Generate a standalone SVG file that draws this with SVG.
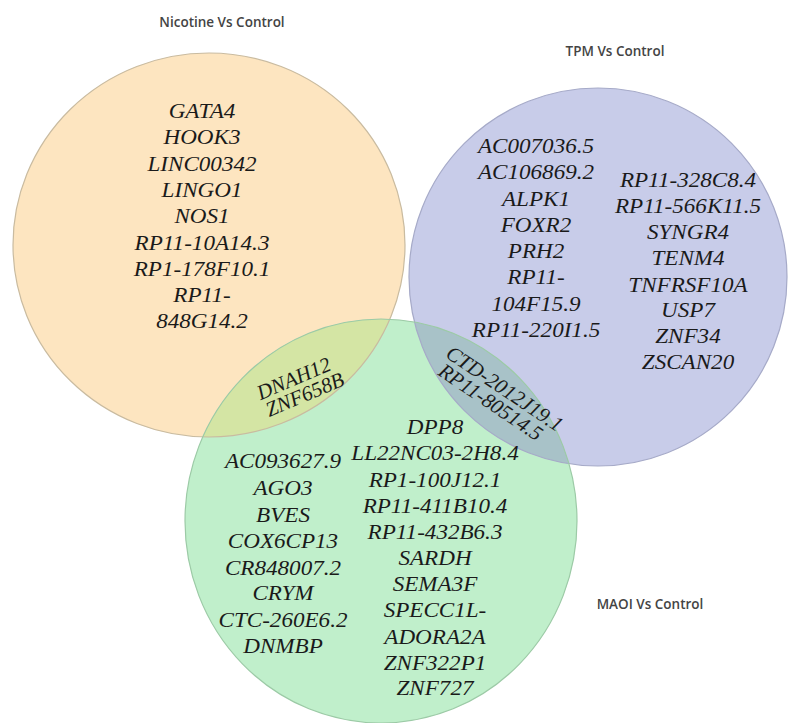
<svg xmlns="http://www.w3.org/2000/svg" width="792" height="723" viewBox="0 0 792 723">
  <style>
    .title { font-family: "Open Sans", "Liberation Sans", sans-serif; font-size: 13.5px; font-weight: 600; fill: #444; text-anchor: middle; }
    .gene { font-family: "Liberation Serif", "Times New Roman", serif; font-style: italic; font-size: 21px; fill: #1a1a1a; text-anchor: middle; }
    .edge { fill: none; stroke-width: 1.2; }
  </style>
  <defs>
    <ellipse id="shapeOrange" cx="209" cy="245" rx="196" ry="192"/>
    <ellipse id="shapeBlue" cx="598" cy="277" rx="189" ry="189"/>
    <ellipse id="shapeGreen" cx="381" cy="521" rx="196" ry="202"/>
    <clipPath id="clipGreen"><use href="#shapeGreen"/></clipPath>
  </defs>
  <rect width="792" height="723" fill="#ffffff"/>

  <g id="set-nicotine">
    <use href="#shapeOrange" fill="#fde5c0"/>
  </g>
  <g id="set-tpm">
    <use href="#shapeBlue" fill="#c8cce9"/>
  </g>
  <g id="set-maoi">
    <use href="#shapeGreen" fill="#c0efcb"/>
  </g>
  <g id="overlaps">
    <use href="#shapeOrange" fill="#d4e5a4" clip-path="url(#clipGreen)"/>
    <use href="#shapeBlue" fill="#a8c2c8" clip-path="url(#clipGreen)"/>
  </g>
  <g id="outlines">
    <use href="#shapeOrange" class="edge" stroke="#c9bba0"/>
    <use href="#shapeBlue" class="edge" stroke="#a6aac8"/>
    <use href="#shapeGreen" class="edge" stroke="#9ccaa6"/>
  </g>

  <g id="titles">
    <text class="title" x="222" y="27">Nicotine Vs Control</text>
    <text class="title" x="615" y="56">TPM Vs Control</text>
    <text class="title" x="650" y="609">MAOI Vs Control</text>
  </g>

  <g id="genes-nicotine" transform="translate(202,0) scale(1.1,1)">
    <text class="gene" x="0" y="118">GATA4</text>
    <text class="gene" x="0" y="144">HOOK3</text>
    <text class="gene" x="0" y="171">LINC00342</text>
    <text class="gene" x="0" y="197">LINGO1</text>
    <text class="gene" x="0" y="223">NOS1</text>
    <text class="gene" x="0" y="250">RP11-10A14.3</text>
    <text class="gene" x="0" y="276">RP1-178F10.1</text>
    <text class="gene" x="0" y="302">RP11-</text>
    <text class="gene" x="0" y="328">848G14.2</text>
  </g>

  <g id="genes-tpm-left" transform="translate(536,0) scale(1.1,1)">
    <text class="gene" x="0" y="153">AC007036.5</text>
    <text class="gene" x="0" y="179">AC106869.2</text>
    <text class="gene" x="0" y="206">ALPK1</text>
    <text class="gene" x="0" y="232">FOXR2</text>
    <text class="gene" x="0" y="258">PRH2</text>
    <text class="gene" x="0" y="284">RP11-</text>
    <text class="gene" x="0" y="311">104F15.9</text>
    <text class="gene" x="0" y="337">RP11-220I1.5</text>
  </g>

  <g id="genes-tpm-right" transform="translate(688,0) scale(1.1,1)">
    <text class="gene" x="0" y="187">RP11-328C8.4</text>
    <text class="gene" x="0" y="213">RP11-566K11.5</text>
    <text class="gene" x="0" y="239">SYNGR4</text>
    <text class="gene" x="0" y="265">TENM4</text>
    <text class="gene" x="0" y="292">TNFRSF10A</text>
    <text class="gene" x="0" y="317">USP7</text>
    <text class="gene" x="0" y="343">ZNF34</text>
    <text class="gene" x="0" y="369">ZSCAN20</text>
  </g>

  <g id="genes-nicotine-maoi" transform="translate(299,386) rotate(-23)">
    <text class="gene" x="-2" y="-2">DNAH12</text>
    <text class="gene" x="2" y="17">ZNF658B</text>
  </g>

  <g id="genes-tpm-maoi" transform="translate(498,395) rotate(34)">
    <text class="gene" x="2" y="-2">CTD-2012J19.1</text>
    <text class="gene" x="-2" y="17">RP11-80514.5</text>
  </g>

  <g id="genes-maoi-left" transform="translate(283,0) scale(1.1,1)">
    <text class="gene" x="0" y="468">AC093627.9</text>
    <text class="gene" x="0" y="495">AGO3</text>
    <text class="gene" x="0" y="522">BVES</text>
    <text class="gene" x="0" y="548">COX6CP13</text>
    <text class="gene" x="0" y="575">CR848007.2</text>
    <text class="gene" x="0" y="600">CRYM</text>
    <text class="gene" x="0" y="627">CTC-260E6.2</text>
    <text class="gene" x="0" y="653">DNMBP</text>
  </g>

  <g id="genes-maoi-right" transform="translate(435,0) scale(1.1,1)">
    <text class="gene" x="0" y="434">DPP8</text>
    <text class="gene" x="0" y="460">LL22NC03-2H8.4</text>
    <text class="gene" x="0" y="487">RP1-100J12.1</text>
    <text class="gene" x="0" y="513">RP11-411B10.4</text>
    <text class="gene" x="0" y="539">RP11-432B6.3</text>
    <text class="gene" x="0" y="565">SARDH</text>
    <text class="gene" x="0" y="591">SEMA3F</text>
    <text class="gene" x="0" y="617">SPECC1L-</text>
    <text class="gene" x="0" y="644">ADORA2A</text>
    <text class="gene" x="0" y="670">ZNF322P1</text>
    <text class="gene" x="0" y="695">ZNF727</text>
  </g>
</svg>
